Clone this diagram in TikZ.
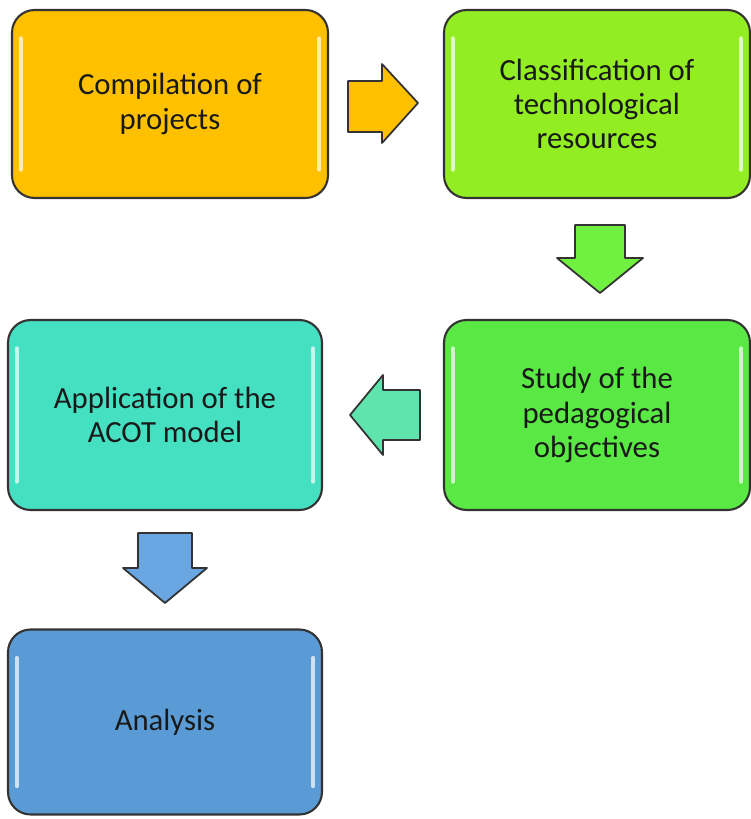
\documentclass[tikz,border=0pt]{standalone}
\usepackage{fontspec}
\setmainfont{Carlito}
\definecolor{boxorange}{HTML}{FFC000}
\definecolor{boxlime}{HTML}{92EE22}
\definecolor{boxgreen}{HTML}{5AE845}
\definecolor{boxteal}{HTML}{45E0C2}
\definecolor{boxblue}{HTML}{5B9BD5}
\definecolor{arrowgreen}{HTML}{70F040}
\definecolor{arrowteal}{HTML}{5EE4AC}
\definecolor{arrowblue}{HTML}{6AA6E2}
\tikzset{
    stepbox/.style = {draw = black!80, line width = 1.2pt, rounded corners = 0.45cm,
        minimum width = 6.3cm, minimum height = 3.76cm, align = center,
        text = black!90, font = \fontsize{17.5}{19.5}\selectfont,
        path picture = {
            \draw [white, opacity = 0.7, line width = 2pt, line cap = round]
            ([xshift = 5pt, yshift = -16pt] path picture bounding box.north west) --
            ([xshift = 5pt, yshift = 16pt] path picture bounding box.south west);
            \draw [white, opacity = 0.7, line width = 2pt, line cap = round]
            ([xshift = -5pt, yshift = -16pt] path picture bounding box.north east) --
            ([xshift = -5pt, yshift = 16pt] path picture bounding box.south east);
        }},
    blockarrow/.style = {draw = black!80, line width = 1pt, line join = round}
}
\begin{document}
\begin{tikzpicture}[x = 0.02cm, y = -0.02cm]
        \useasboundingbox (0, 0) rectangle (751, 819);
        % process boxes
        \node [stepbox, fill = boxorange, minimum width = 6.32cm] (compile) at (170, 104) {Compilation of\\projects};
        \node [stepbox, fill = boxlime, minimum width = 6.12cm] (classify) at (597, 104) {Classification of\\technological\\resources};
        \node [stepbox, fill = boxgreen, minimum width = 6.12cm, minimum height = 3.8cm] (study) at (597, 415) {Study of the\\pedagogical\\objectives};
        \node [stepbox, fill = boxteal, minimum width = 6.28cm, minimum height = 3.8cm] (apply) at (165, 415) {Application of the\\ACOT model};
        \node [stepbox, fill = boxblue, minimum width = 6.28cm, minimum height = 3.7cm] (analysis) at (165, 722) {Analysis};
        % block arrows
        \draw [blockarrow, fill = boxorange] (348, 81) -- (382, 81) -- (382, 64) -- (418, 103)
            -- (382, 143) -- (382, 132) -- (348, 132) -- cycle;
        \draw [blockarrow, fill = arrowgreen] (575, 225) -- (625, 225) -- (625, 258) -- (643, 258)
            -- (600, 293) -- (557, 258) -- (575, 258) -- cycle;
        \draw [blockarrow, fill = arrowteal] (420, 390) -- (383, 390) -- (383, 375) -- (350, 415)
            -- (383, 455) -- (383, 440) -- (420, 440) -- cycle;
        \draw [blockarrow, fill = arrowblue] (138, 533) -- (192, 533) -- (192, 568) -- (207, 568)
            -- (165, 603) -- (123, 568) -- (138, 568) -- cycle;
    \end{tikzpicture}
\end{document}
